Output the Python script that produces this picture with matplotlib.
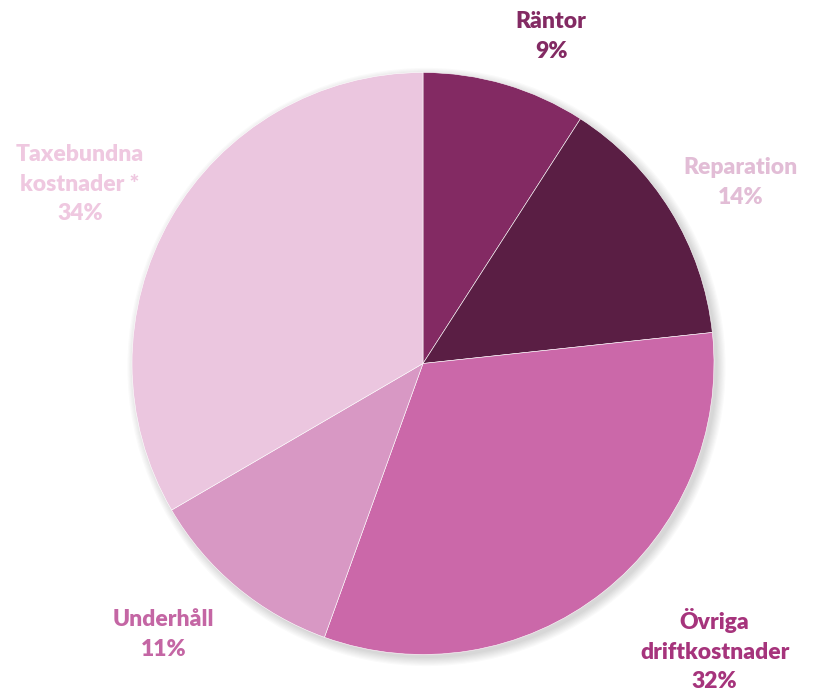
import matplotlib.pyplot as plt
import numpy as np

labels = ["Räntor", "Reparation", "Övriga\ndriftkostnader", "Underhåll", "Taxebundna\nkostnader *"]
shares = [9.1, 14.2, 32.2, 11.1, 33.4]
shown_pct = [9, 14, 32, 11, 34]
slice_colors = ["#832a63", "#5a1e44", "#cb68a9", "#d898c4", "#ebc6df"]
label_colors = ["#832a63", "#e2bdd6", "#a6347c", "#c466a4", "#efc8e0"]

# label distance (in radii) and angle nudge (deg) per slice
label_dist = [1.207, 1.257, 1.406, 1.29, 1.33]
label_nudge = [-5, -2, 7.3, -4, 2.3]

fig = plt.figure(figsize=(8.18, 6.93), dpi=100)
ax = fig.add_axes([0, 0, 1, 1])

R = 291.0
cx, cy = 423.0, 363.5

# soft shadow
for k in range(8):
    c = plt.Circle((0.012, -0.012), 1.0 + 0.004 * k, color="black",
                   alpha=0.018, zorder=0, lw=0)
    ax.add_patch(c)

wedges, _ = ax.pie(
    shares, colors=slice_colors, startangle=90, counterclock=False,
    radius=1.0, wedgeprops=dict(edgecolor="white", linewidth=0.4),
)
ax.set_xlim(-cx / R, (818 - cx) / R)
ax.set_ylim(-(693 - cy) / R, cy / R)
ax.set_aspect("equal")
ax.axis("off")

for w, lab, pct, col, d, nudge in zip(wedges, labels, shown_pct, label_colors, label_dist, label_nudge):
    ang = np.deg2rad((w.theta1 + w.theta2) / 2 + nudge)
    ax.text(d * np.cos(ang), d * np.sin(ang), f"{lab}\n{pct}%",
            ha="center", va="center", color=col, fontsize=16.5,
            fontweight="heavy", family="Lato", linespacing=1.5)

fig.savefig("out.png", dpi=100)
